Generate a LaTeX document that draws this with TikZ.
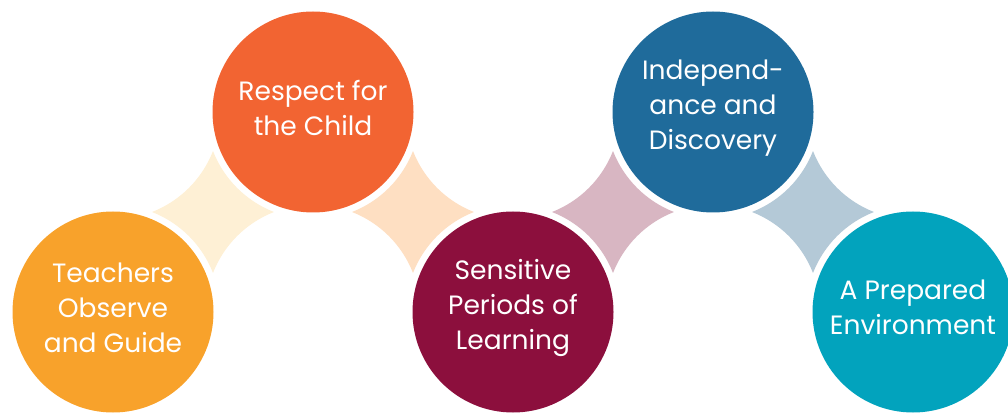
\documentclass[tikz,border=0pt]{standalone}
\usepackage{fontspec}
\setmainfont{Poppins}
\usetikzlibrary{calc}
\definecolor{cA}{HTML}{F8A22B}
\definecolor{cB}{HTML}{F26432}
\definecolor{cC}{HTML}{8C0F3D}
\definecolor{cD}{HTML}{1F6B9B}
\definecolor{cE}{HTML}{02A3BD}
\definecolor{sA}{HTML}{FEF0D5}
\definecolor{sB}{HTML}{FEDFC2}
\definecolor{sC}{HTML}{D8B6C2}
\definecolor{sD}{HTML}{B4C9D7}
\begin{document}
\begin{tikzpicture}[x=1pt,y=1pt,
  bubble/.style={circle, minimum size=201pt, inner sep=0pt},
  label text/.style={text=white, align=center, inner sep=0pt,
    font=\fontsize{26.5}{35}\selectfont}
]
\useasboundingbox (0,0) rectangle (1008,412);
\node[bubble, fill=cA] (c1) at (113,100) {};
\node[bubble, fill=cB] (c2) at (313,300) {};
\node[bubble, fill=cC] (c3) at (513,100) {};
\node[bubble, fill=cD] (c4) at (713,300) {};
\node[bubble, fill=cE] (c5) at (913,100) {};
\node[label text] (t1) at ($(c1)+(0,4)$) {Teachers\\Observe\\and Guide};
\node[label text] (t2) at ($(c2)+(0,4)$) {Respect for\\the Child};
\node[label text] (t3) at ($(c3)+(0,4)$) {Sensitive\\Periods of\\Learning};
\node[label text] (t4) at ($(c4)+(0,4)$) {Independ-\\ance and\\Discovery};
\node[label text] (t5) at ($(c5)+(0,5)$) {A Prepared\\Environment};
\coordinate (s1) at ($(c1)!0.5!(c2)$);
\coordinate (s2) at ($(c2)!0.5!(c3)$);
\coordinate (s3) at ($(c3)!0.5!(c4)$);
\coordinate (s4) at ($(c4)!0.5!(c5)$);
\foreach \s/\c in {s1/sA, s2/sB, s3/sC, s4/sD}{
  \fill[\c, shift={(\s)}] (-61,0)
    arc[start angle=-68.7, end angle=-21.3, radius=107.3]
    arc[start angle=201.3, end angle=248.7, radius=107.3]
    arc[start angle=111.3, end angle=158.7, radius=107.3]
    arc[start angle=21.3, end angle=68.7, radius=107.3] -- cycle;
}
\end{tikzpicture}
\end{document}
